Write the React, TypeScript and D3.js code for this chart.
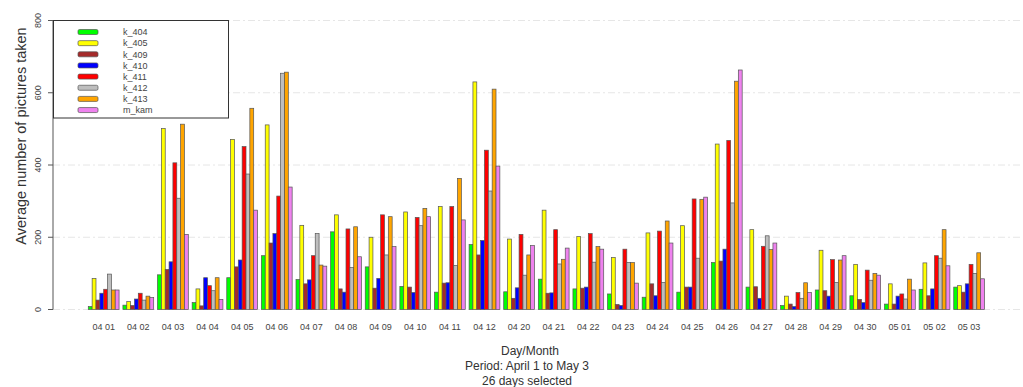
import React from "react";
import * as d3 from "d3";

// Day labels (month day)
const days = [
  "04 01", "04 02", "04 03", "04 04", "04 05", "04 06", "04 07", "04 08", "04 09",
  "04 10", "04 11", "04 12", "04 20", "04 21", "04 22", "04 23", "04 24", "04 25",
  "04 26", "04 27", "04 28", "04 29", "04 30", "05 01", "05 02", "05 03",
];

const seriesNames = ["k_404", "k_405", "k_409", "k_410", "k_411", "k_412", "k_413", "m_kam"];
const seriesColors = ["#00ff00", "#ffff00", "#a52a2a", "#0000ff", "#ff0000", "#bebebe", "#ffa500", "#ee82ee"];

// Average pictures per camera, one value per day
const k404 = [8, 12, 96, 19, 88, 149, 83, 215, 118, 64, 48, 180, 49, 84, 57, 43, 34, 48, 130, 62, 11, 54, 38, 15, 56, 62];
const k405 = [86, 22, 501, 57, 471, 511, 233, 262, 200, 270, 285, 630, 195, 275, 202, 144, 212, 232, 458, 221, 37, 164, 125, 71, 129, 66];
const k409 = [26, 11, 111, 10, 118, 184, 71, 57, 59, 62, 73, 151, 31, 45, 59, 14, 71, 62, 134, 63, 15, 52, 28, 15, 38, 48];
const k410 = [45, 29, 132, 88, 137, 210, 82, 48, 86, 47, 74, 191, 60, 46, 62, 11, 38, 62, 167, 31, 8, 37, 19, 37, 57, 71];
const k411 = [56, 45, 406, 66, 451, 314, 149, 223, 262, 255, 285, 441, 208, 221, 210, 167, 217, 306, 468, 175, 47, 138, 109, 43, 149, 125];
const k412 = [98, 26, 308, 52, 375, 654, 210, 116, 151, 232, 122, 328, 95, 126, 131, 130, 75, 142, 295, 204, 31, 75, 81, 29, 142, 100];
const k413 = [54, 37, 513, 88, 557, 657, 123, 229, 257, 280, 363, 610, 151, 139, 174, 130, 245, 305, 632, 166, 74, 137, 100, 84, 221, 157];
const mkam = [54, 33, 208, 28, 275, 339, 120, 146, 174, 257, 248, 397, 177, 170, 167, 73, 184, 311, 663, 184, 47, 149, 95, 54, 121, 85];

const seriesValues = [k404, k405, k409, k410, k411, k412, k413, mkam];

const yTicks = [0, 200, 400, 600, 800];

const W = 1023;
const H = 387;

export default function App() {
  const y = d3.scaleLinear().domain([0, 800]).range([309.5, 20.5]);
  const xGroup = d3.scaleBand<string>().domain(days).range([88.3, 984.5]).paddingInner(1 / 9).paddingOuter(0);
  const xBar = d3.scaleBand<number>().domain(d3.range(seriesNames.length)).range([0, xGroup.bandwidth()]);

  const axisX = 53;
  const font = "'Liberation Sans', Arial, sans-serif";

  return (
    <svg width={W} height={H} style={{ position: "absolute", left: 0, top: 0, background: "#fff" }} fontFamily={font}>
      {/* dashed grid */}
      {yTicks.map((t) => (
        <line key={"g" + t} x1={axisX} x2={1020} y1={y(t)} y2={y(t)} stroke="#e6e6e6" strokeWidth={1} strokeDasharray="7 3 2 3" />
      ))}

      {/* bars */}
      {days.map((d, i) => (
        <g key={d} transform={`translate(${xGroup(d)},0)`}>
          {seriesValues.map((vals, s) => (
            <rect
              key={s}
              x={xBar(s)}
              y={y(vals[i])}
              width={xBar.bandwidth()}
              height={y(0) - y(vals[i])}
              fill={seriesColors[s]}
              stroke="#555"
              strokeWidth={0.7}
            />
          ))}
          <text x={xGroup.bandwidth() / 2} y={330} textAnchor="middle" fontSize={9} fill="#444">
            {d}
          </text>
        </g>
      ))}

      {/* y axis */}
      <line x1={axisX} x2={axisX} y1={y(0)} y2={y(800)} stroke="#555" strokeWidth={1} />
      {yTicks.map((t) => (
        <g key={"t" + t}>
          <line x1={axisX - 5} x2={axisX} y1={y(t)} y2={y(t)} stroke="#555" strokeWidth={1} />
          <text
            transform={`translate(${41},${y(t)}) rotate(-90)`}
            textAnchor="middle"
            fontSize={9}
            fill="#444"
          >
            {t}
          </text>
        </g>
      ))}
      <text transform="translate(26,136) rotate(-90)" textAnchor="middle" fontSize={14.5} fill="#333">
        Average number of pictures taken
      </text>

      {/* x titles */}
      <text x={530} y={355} textAnchor="middle" fontSize={12} fill="#333">Day/Month</text>
      <text x={527} y={370} textAnchor="middle" fontSize={12} fill="#333">Period: April 1 to May 3</text>
      <text x={527} y={385} textAnchor="middle" fontSize={12} fill="#333">26 days selected</text>

      {/* legend */}
      <rect x={53.5} y={20.5} width={175} height={97.5} fill="#fff" stroke="#333" strokeWidth={1} />
      {seriesNames.map((n, s) => (
        <g key={n} transform={`translate(0,${32 + s * 11.15})`}>
          <rect x={78} y={-2.5} width={20} height={5} rx={1.5} fill={seriesColors[s]} stroke="#555" strokeWidth={0.7} />
          <text x={123} y={3.3} fontSize={9} fill="#444">{n}</text>
        </g>
      ))}
    </svg>
  );
}
